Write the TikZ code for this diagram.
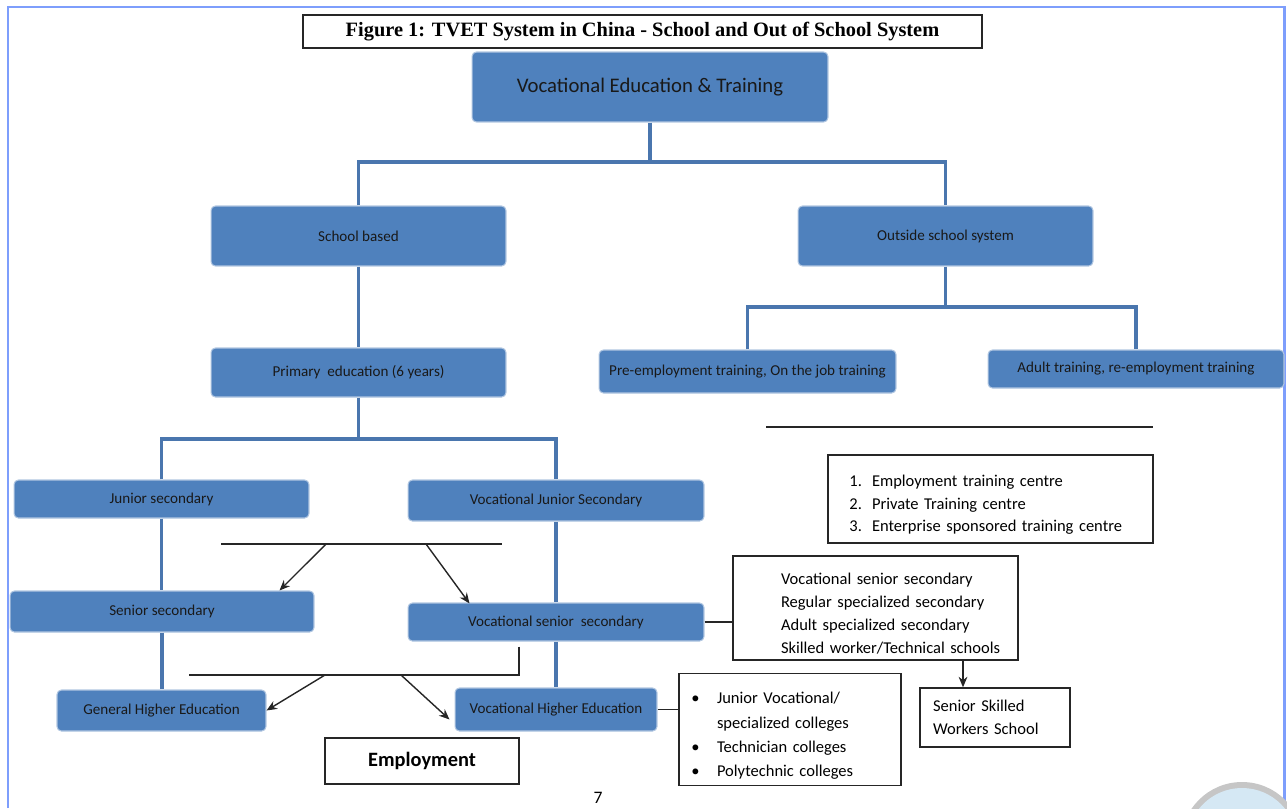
\documentclass[tikz,border=0pt]{standalone}
\usepackage{fontspec}
\setmainfont{Carlito}
\newfontfamily\titlefont{Liberation Serif}
\usepackage{enumitem}
\usetikzlibrary{arrows.meta}
\definecolor{boxblue}{HTML}{4F81BD}
\definecolor{linkblue}{HTML}{4A76AE}
\definecolor{frameblue}{HTML}{7E9EFC}
\definecolor{iconblue}{HTML}{D5E8F4}
\tikzset{
  blk/.style={draw=boxblue!45, line width=0.6pt, fill=boxblue, rounded corners=2.5pt,
    font=\fontsize{8.6}{10}\selectfont, text=black!90},
  plain/.style={draw=black!85, line width=0.8pt, fill=white, font=\fontsize{9.4}{13}\selectfont},
  link/.style={draw=linkblue, line width=1.8pt},
  bar/.style={draw=black!85, line width=0.8pt},
  arr/.style={bar, -{Stealth[length=6pt,width=5pt]}}
}
\begin{document}
\begin{tikzpicture}[x=0.02cm, y=-0.02cm]
  \useasboundingbox (0,0) rectangle (1287,808);
  % page frame and corner icon
  \draw[frameblue, line width=1.7pt] (8,808) -- (8,7) -- (1284,7) -- (1284,808);
  \begin{scope}
    \clip (0,0) rectangle (1287,808);
    \fill[gray!45] (1242,843) circle (61);
    \fill[iconblue] (1242,843) circle (55);
  \end{scope}
  % title
  \node[draw=black!85, line width=0.8pt, minimum width=13.58cm, minimum height=0.66cm,
    font=\titlefont\bfseries\fontsize{11.6}{13}\selectfont] (title) at (642.5,31.5)
    {Figure 1: TVET System in China - School and Out of School System};
  % blue boxes
  \node[blk, minimum width=7.12cm, minimum height=1.4cm, font=\fontsize{11.8}{13}\selectfont] (vet) at (650,87) {Vocational Education \& Training};
  \node[blk, minimum width=5.9cm, minimum height=1.2cm] (school) at (358.5,236) {School based};
  \node[blk, minimum width=5.9cm, minimum height=1.2cm] (outside) at (945.5,236) {Outside school system};
  \node[blk, minimum width=5.9cm, minimum height=0.98cm] (primary) at (358.5,372.5) {Primary\ \ education (6 years)};
  \node[blk, minimum width=5.94cm, minimum height=0.86cm] (preemp) at (747.5,371.5) {Pre-employment training, On the job training};
  \node[blk, minimum width=5.92cm, minimum height=0.76cm] (adult) at (1136,369) {Adult training, re-employment training};
  \node[blk, minimum width=5.9cm, minimum height=0.76cm] (junior) at (161.5,499) {Junior secondary};
  \node[blk, minimum width=5.92cm, minimum height=0.82cm] (vocjr) at (556,500.5) {Vocational Junior Secondary};
  \node[blk, minimum width=6.08cm, minimum height=0.82cm] (senior) at (162,611.5) {Senior secondary};
  \node[blk, minimum width=5.92cm, minimum height=0.76cm] (vocsen) at (556,622) {Vocational senior\ \ secondary};
  \node[blk, minimum width=4.18cm, minimum height=0.82cm] (genhigh) at (161.5,710.5) {General Higher Education};
  \node[blk, minimum width=4.04cm, minimum height=0.86cm] (vochigh) at (556,709.5) {Vocational Higher Education};
  % white boxes
  \node[plain, minimum width=3.88cm, minimum height=0.92cm, font=\bfseries\fontsize{11.6}{14}\selectfont] (employ) at (422,761) {Employment};
  \node[plain, minimum width=6.5cm, minimum height=1.76cm, text width=6.3cm, inner xsep=0.1cm] (centres) at (990.5,499) {%
    \begin{enumerate}[nosep, leftmargin=0.78cm, labelsep=0.2cm]
      \item Employment training centre
      \item Private Training centre
      \item Enterprise sponsored training centre
    \end{enumerate}};
  \node[plain, minimum width=5.7cm, minimum height=2.04cm, text width=5.5cm, inner xsep=0.1cm] (sectypes) at (875.5,608) {%
    \begin{itemize}[nosep, label={}, leftmargin=0.86cm]
      \item Vocational senior secondary
      \item Regular specialized secondary
      \item Adult specialized secondary
      \item Skilled worker/Technical schools
    \end{itemize}};
  \node[plain, minimum width=4.44cm, minimum height=2.18cm, text width=4.24cm, inner xsep=0.1cm,
    font=\fontsize{9.4}{13.8}\selectfont] (colleges) at (790,729.5) {%
    \begin{itemize}[nosep, label=\textbullet, leftmargin=0.66cm, labelsep=0.35cm]
      \item Junior Vocational/\\ specialized colleges
      \item Technician colleges
      \item Polytechnic colleges
    \end{itemize}};
  \node[plain, minimum width=3.0cm, minimum height=1.18cm, text width=2.48cm, inner xsep=0.26cm, align=left] (skilled) at (995,717.5)
    {Senior Skilled\\ Workers School};
  \node[font=\fontsize{10}{12}\selectfont, inner sep=1pt] (pagenum) at (598,798) {7};
  % blue tree
  \coordinate (j1) at (650,162);
  \coordinate (j2) at (945.5,307);
  \coordinate (j3) at (358.5,439);
  \draw[link] (vet.south) -- (j1);
  \draw[link] (school.north) |- (j1) -| (outside.north);
  \draw[link] (school.south) -- (primary.north);
  \draw[link] (outside.south) -- (j2);
  \draw[link] (preemp.north) |- (j2) -| (adult.north);
  \draw[link] (primary.south) -- (j3);
  \draw[link] (junior.north) |- (j3) -| (vocjr.north);
  \draw[link] (junior.south) -- (senior.north -| junior.south);
  \draw[link] (vocjr.south) -- (vocsen.north);
  \draw[link] (senior.south) -- (genhigh.north -| senior.south);
  \draw[link] (vocsen.south) -- (vochigh.north);
  % black bars and arrows
  \coordinate (bar1a) at (221,544);
  \coordinate (bar1b) at (502,544);
  \coordinate (bar1l) at (326,544);
  \coordinate (bar1r) at (426,544);
  \draw[bar] (bar1a) -- (bar1b);
  \draw[arr] (bar1l) -- ([xshift=-0.7cm]senior.north east);
  \draw[arr] (bar1r) -- ([xshift=1.24cm, yshift=-0.02cm]vocsen.north west);
  \coordinate (bar2a) at (189,675);
  \coordinate (bar2l) at (325,675);
  \coordinate (bar2r) at (401,675);
  \draw[bar] ([xshift=-0.74cm, yshift=-0.1cm]vocsen.south) |- (bar2a);
  \draw[arr] (bar2l) -- (genhigh.east);
  \draw[arr] (bar2r) -- ([xshift=-0.1cm, yshift=-0.2cm]vochigh.west);
  \coordinate (bar3a) at (766,427);
  \coordinate (bar3b) at (1153,427);
  \draw[bar] (bar3a) -- (bar3b);
  \draw[bar] (vocsen.east) -- (vocsen.east -| sectypes.west);
  \draw[bar] (vochigh.east) -- (vochigh.east -| colleges.west);
  \draw[arr] (sectypes.south -| 963,0) -- (skilled.north -| 963,0);
\end{tikzpicture}
\end{document}
